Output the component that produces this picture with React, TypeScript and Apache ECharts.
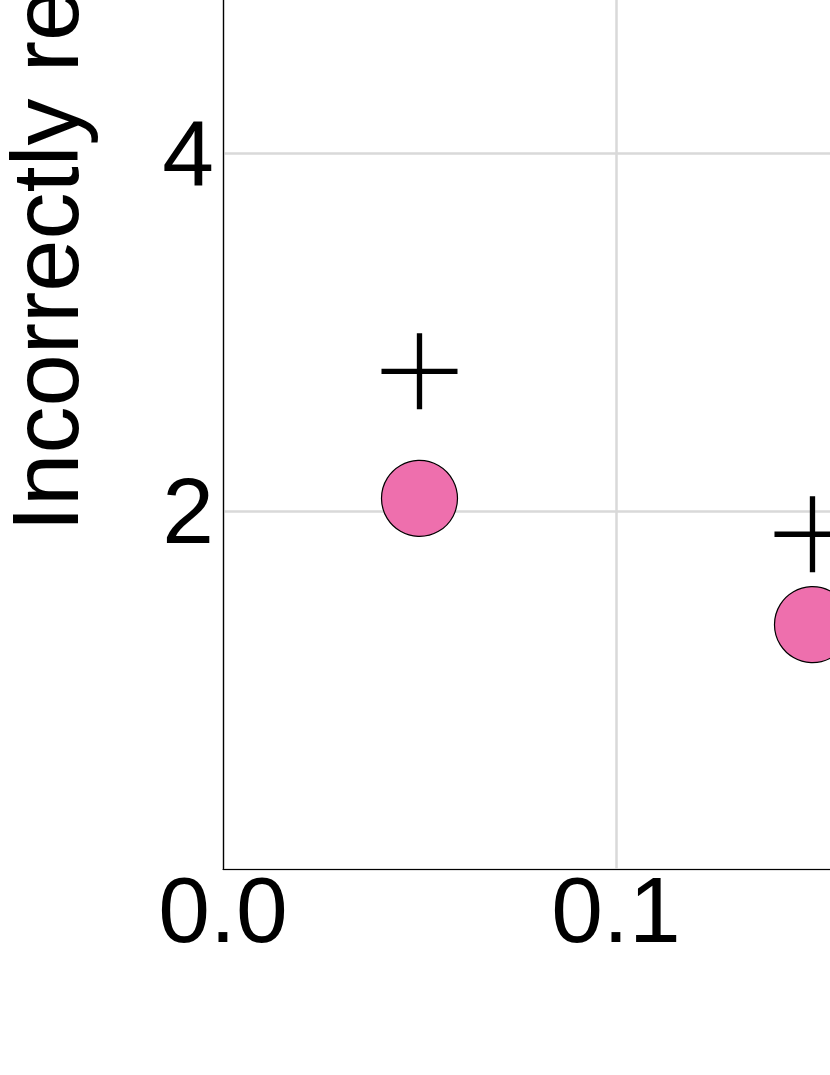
import React, { useEffect, useRef } from "react";
import * as echarts from "echarts";

const xTickLabels = ["0.0", "0.1"];
const yTickLabels = ["2", "4"];
const yTitle = "Incorrectly rejected";
// [x, y]
const circleSeries: [number, number][] = [
  [0.05, 2.07],
  [0.15, 1.365],
];
const plusSeries: [number, number][] = [
  [0.05, 2.78],
  [0.15, 1.87],
];

const FONT = '"Liberation Sans", Arial, Helvetica, sans-serif';
const PLUS_PATH =
  "path://M46.5,0 H53.5 V46.5 H100 V53.5 H53.5 V100 H46.5 V53.5 H0 V46.5 H46.5 Z";

export default function App() {
  const ref = useRef<HTMLDivElement>(null);
  useEffect(() => {
    document.body.style.margin = "0";
    if (!ref.current) return;
    const chart = echarts.init(ref.current, null, { renderer: "svg" });
    chart.setOption({
      animation: false,
      backgroundColor: "#ffffff",
      grid: { left: 223, right: 0, top: 0, bottom: 206, containLabel: false },
      xAxis: {
        type: "value",
        min: 0,
        max: 0.16209,
        interval: 0.1,
        axisLine: { show: true, lineStyle: { color: "#000", width: 1.2 } },
        axisTick: { show: false },
        splitLine: { show: true, lineStyle: { color: "#d9d9d9", width: 2.5 } },
        axisLabel: {
          margin: -6,
          fontSize: 93,
          fontFamily: FONT,
          color: "#000",
          showMaxLabel: false,
          formatter: (v: number) => {
            const s = v.toFixed(1);
            return xTickLabels.includes(s) ? s : "";
          },
        },
      },
      yAxis: {
        type: "value",
        min: 0,
        max: 5.022,
        interval: 2,
        axisLine: { show: true, lineStyle: { color: "#000", width: 1.2 } },
        axisTick: { show: false },
        splitLine: { show: true, lineStyle: { color: "#d9d9d9", width: 2.5 } },
        axisLabel: {
          margin: 9,
          fontSize: 93,
          fontFamily: FONT,
          color: "#000",
          showMinLabel: false,
          showMaxLabel: false,
          formatter: (v: number) => {
            const s = String(Math.round(v));
            return yTickLabels.includes(s) && Math.abs(v - Math.round(v)) < 1e-9 ? s : "";
          },
        },
      },
      graphic: [
        {
          type: "text",
          x: 45,
          y: 562,
          rotation: Math.PI / 2,
          style: {
            text: yTitle,
            font: `94px ${FONT}`,
            fill: "#000",
            textAlign: "left",
            textVerticalAlign: "middle",
          },
        },
      ],
      series: [
        {
          type: "scatter",
          data: circleSeries,
          symbol: "circle",
          symbolSize: 76,
          itemStyle: { color: "#EE6FAD", borderColor: "#000", borderWidth: 1.2, opacity: 1 },
          z: 2,
        },
        {
          type: "scatter",
          data: plusSeries,
          symbol: PLUS_PATH,
          symbolSize: 76,
          itemStyle: { color: "#000", opacity: 1 },
          z: 3,
        },
      ],
    });
    return () => chart.dispose();
  }, []);
  return (
    <div style={{ width: 830, height: 1075, overflow: "hidden", position: "relative" }}>
      <div
        ref={ref}
        style={{ position: "absolute", left: 0, top: -30, width: 860, height: 1105 }}
      />
    </div>
  );
}
